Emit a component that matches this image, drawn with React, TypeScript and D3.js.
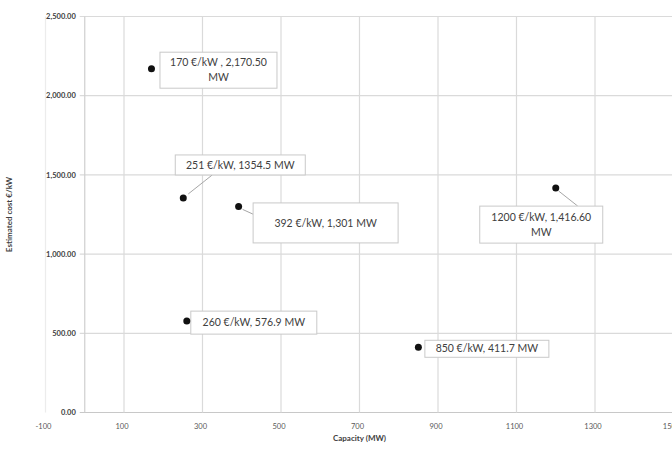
import React from "react";
import * as d3 from "d3";

// Plant cost (€/kW) against capacity (MW)
const costs = [170, 251, 392, 260, 850, 1200];
const capacities = [2170.5, 1354.5, 1301, 576.9, 411.7, 1416.6];
const labelLines: string[][] = [
  ["170 €/kW , 2,170.50", "MW"],
  ["251 €/kW, 1354.5 MW"],
  ["392 €/kW, 1,301 MW"],
  ["260 €/kW, 576.9 MW"],
  ["850 €/kW, 411.7 MW"],
  ["1200 €/kW, 1,416.60", "MW"],
];

const xTicks = [-100, 100, 300, 500, 700, 900, 1100, 1300, 1500];
const yTicks = [0, 500, 1000, 1500, 2000, 2500];

// Label box placement relative to each point (pixels)
const labelBoxes = [
  { dx: 8.5, dy: -16.5, w: 117, h: 36 },
  { dx: -8, dy: -43, w: 130, h: 20 },
  { dx: 14.5, dy: -3.5, w: 145, h: 40 },
  { dx: 4, dy: -10, w: 126, h: 23 },
  { dx: 6.5, dy: -7, w: 124, h: 17 },
  { dx: -76, dy: 18, w: 123, h: 37 },
];
// Leader lines (relative to each point), empty when the label sits next to it
const leaders: [number, number][][] = [
  [],
  [[5, -4], [29, -23]],
  [[4, 3], [15, 8]],
  [],
  [],
  [[3, 3], [22, 18]],
];

const W = 672;
const H = 452;

export default function App() {
  const x = d3.scaleLinear().domain([-100, 1500]).range([45.5, 673.5]);
  const y = d3.scaleLinear().domain([0, 2500]).range([412.5, 16.5]);
  const fmtY = d3.format(",.2f");
  const tickFont = "Lato, 'Open Sans', sans-serif";
  const labelFont = "Lato, 'Open Sans', sans-serif";

  return (
    <svg
      width={W}
      height={H}
      style={{ position: "absolute", left: 0, top: 0, background: "#fff" }}
    >
      <rect width={W} height={H} fill="#fff" />
      {/* horizontal gridlines */}
      {yTicks.map((t) => (
        <line
          key={"h" + t}
          x1={x(0) - 5}
          x2={W}
          y1={y(t)}
          y2={y(t)}
          stroke={t === 0 ? "#c8c8c8" : "#dadada"}
          strokeWidth={1.2}
        />
      ))}
      {/* vertical gridlines */}
      {xTicks.map((t) => (
        <line
          key={"v" + t}
          x1={x(t)}
          x2={x(t)}
          y1={y(2500)}
          y2={y(0)}
          stroke={t === -100 ? "#ececec" : "#dadada"}
          strokeWidth={1.2}
        />
      ))}
      {/* value axis at x = 0 */}
      <line x1={x(0)} x2={x(0)} y1={y(2500)} y2={y(0)} stroke="#cfcfcf" strokeWidth={1.2} />

      {/* y tick labels */}
      {yTicks.map((t) => (
        <text
          key={"yl" + t}
          x={x(0) - 9}
          y={y(t)}
          dy="0.35em"
          textAnchor="end"
          fontFamily={tickFont}
          fontSize={7.5}
          fontWeight={700}
          fill="#404040"
        >
          {fmtY(t)}
        </text>
      ))}
      {/* x tick labels */}
      {xTicks.map((t) => (
        <text
          key={"xl" + t}
          x={x(t) - 2}
          y={y(0) + 14}
          dy="0.35em"
          textAnchor="middle"
          fontFamily={tickFont}
          fontSize={7.5}
          fill="#595959"
        >
          {t}
        </text>
      ))}

      {/* axis titles */}
      <text
        x={(x(-100) + x(1500)) / 2}
        y={441}
        textAnchor="middle"
        fontFamily={tickFont}
        fontSize={8}
        fontWeight={700}
        fill="#404040"
      >
        Capacity (MW)
      </text>
      <text
        transform={`translate(12, ${(y(0) + y(2500)) / 2}) rotate(-90)`}
        textAnchor="middle"
        fontFamily={tickFont}
        fontSize={8}
        fontWeight={700}
        fill="#404040"
      >
        Estimated cost €/kW
      </text>

      {/* leader lines */}
      {costs.map((c, i) => {
        const px = x(c);
        const py = y(capacities[i]);
        const pts = leaders[i];
        if (!pts.length) return null;
        return (
          <polyline
            key={"ld" + i}
            points={pts.map(([a, b]) => `${px + a},${py + b}`).join(" ")}
            fill="none"
            stroke="#a6a6a6"
            strokeWidth={1}
          />
        );
      })}

      {/* data label boxes */}
      {costs.map((c, i) => {
        const px = x(c);
        const py = y(capacities[i]);
        const b = labelBoxes[i];
        const lines = labelLines[i];
        const cx = px + b.dx + b.w / 2;
        const cy = py + b.dy + b.h / 2;
        const lh = 15;
        return (
          <g key={"lb" + i}>
            <rect
              x={px + b.dx}
              y={py + b.dy}
              width={b.w}
              height={b.h}
              fill="#fff"
              stroke="#c9c9c9"
              strokeWidth={1}
            />
            {lines.map((ln, j) => (
              <text
                key={j}
                x={cx}
                y={cy + (j - (lines.length - 1) / 2) * lh}
                dy="0.35em"
                textAnchor="middle"
                fontFamily={labelFont}
                fontSize={10.5}
                fill="#404040"
              >
                {ln}
              </text>
            ))}
          </g>
        );
      })}

      {/* points */}
      {costs.map((c, i) => (
        <circle key={"p" + i} cx={x(c)} cy={y(capacities[i])} r={3.5} fill="#111" />
      ))}
    </svg>
  );
}
